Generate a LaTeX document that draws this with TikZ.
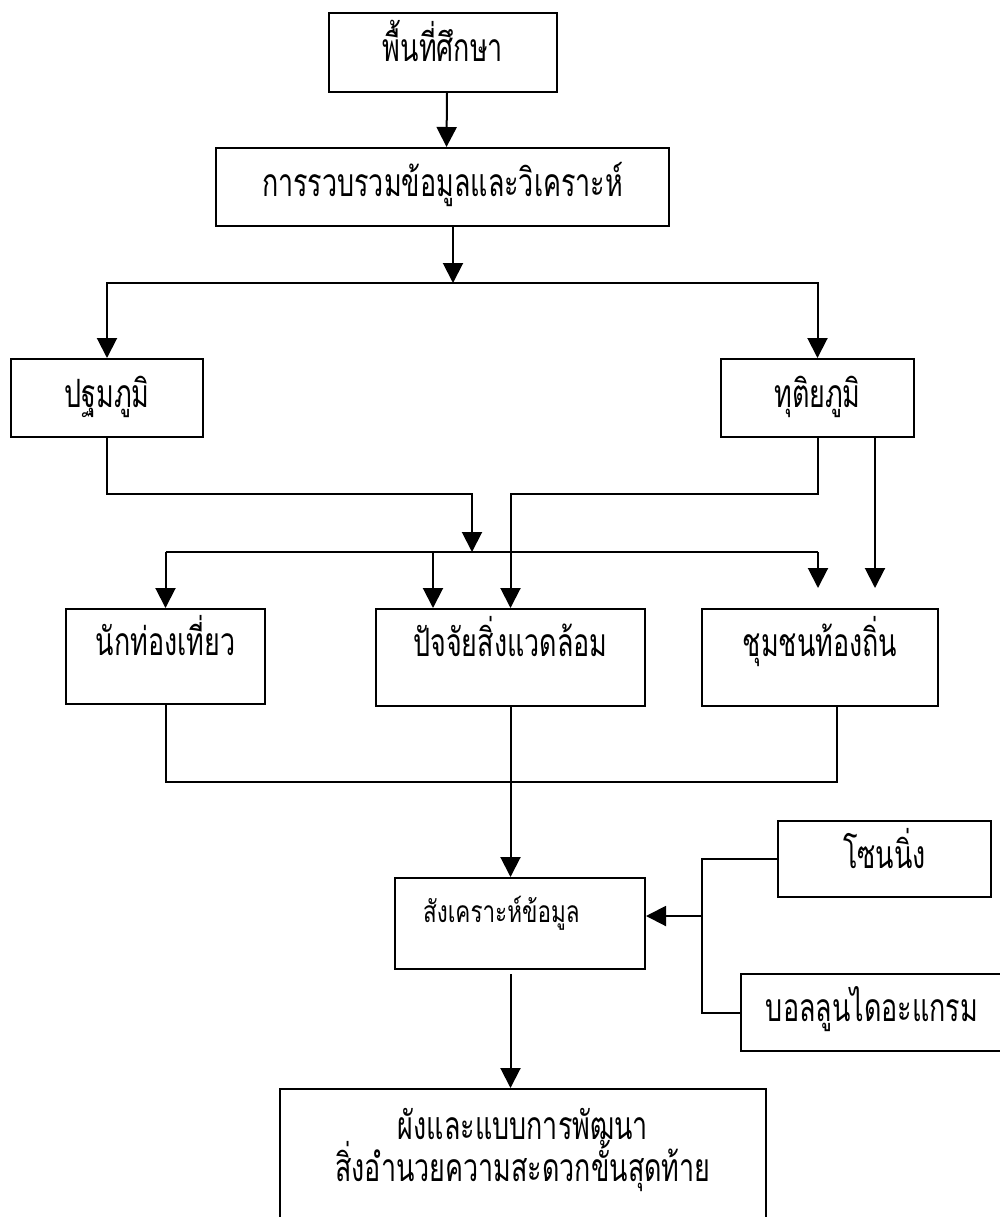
\documentclass[tikz,border=0pt]{standalone}
\usepackage{fontspec}
\newfontfamily\thai[Script=Thai,FakeStretch=0.69]{Loma}
\newfontfamily\thaithin[Script=Thai,FakeStretch=0.75]{Loma}
\usetikzlibrary{arrows.meta}
\begin{document}
\begin{tikzpicture}[x=0.5pt,y=-0.5pt,
  thaitext/.style={font=\thai\fontsize{19.5}{21}\selectfont, text height=14pt, text depth=5pt},
  smalltext/.style={font=\thaithin\fontsize{15}{18}\selectfont, text height=11pt, text depth=4pt},
  box/.style={draw, line width=1pt, inner sep=0pt, thaitext},
  hi/.style={text depth=15pt},
  arr/.style={line width=1pt, -{Triangle[width=10pt,length=10pt]}},
  ln/.style={line width=1pt}]
\useasboundingbox (0,0) rectangle (1000,1217);
\clip (0,0) rectangle (1000,1217);
% boxes
\node[box, minimum width=114pt, minimum height=39.5pt] (area) at (443,52.5) {พื้นที่ศึกษา};
\node[box, minimum width=226.5pt, minimum height=39pt] (coll) at (442.5,187) {การรวบรวมข้อมูลและวิเคราะห์};
\node[box, minimum width=96pt, minimum height=39pt] (prim) at (107,398) {ปฐมภูมิ};
\node[box, minimum width=96.5pt, minimum height=39pt] (sec) at (817.5,398) {ทุติยภูมิ};
\node[box, hi, minimum width=99.5pt, minimum height=47.5pt] (tour) at (165.5,656.5) {นักท่องเที่ยว};
\node[box, hi, minimum width=134.5pt, minimum height=48.5pt] (env) at (510.5,657.5) {ปัจจัยสิ่งแวดล้อม};
\node[box, hi, minimum width=118pt, minimum height=48.5pt] (comm) at (820,657.5) {ชุมชนท้องถิ่น};
\node[box, minimum width=125pt, minimum height=45.5pt,
  label={[smalltext, anchor=west, xshift=11pt, yshift=4.25pt]west:สังเคราะห์ข้อมูล}] (syn) at (520,923.5) {};
\node[box, minimum width=106.5pt, minimum height=38pt] (zon) at (884.5,859) {โซนนิ่ง};
\node[box, minimum width=131pt, minimum height=38.5pt] (ball) at (872,1012.5) {บอลลูนไดอะแกรม};
\node[box, minimum width=243pt, minimum height=75.5pt,
  label={[font=\thai\fontsize{19.5}{21}\selectfont, align=center, yshift=7.25pt]center:{ผังและแบบการพัฒนา\\สิ่งอำนวยความสะดวกขั้นสุดท้าย}}] (fin) at (523,1164.5) {};
% junction coordinates
\coordinate (j1) at (453,283);
\coordinate (b1) at (472,494);
\coordinate (j2) at (472,552);
\coordinate (t1) at (165.5,552);
\coordinate (e1) at (433,552);
\coordinate (c1) at (818,552);
\coordinate (b2) at (510.5,494);
\coordinate (s2) at (875,437);
\coordinate (m2) at (837,782);
\coordinate (k) at (702,916);
\coordinate (g) at (510.5,974);
% connectors
\draw[arr] ([xshift=2pt]area.south) -- ([xshift=2pt]coll.north);
\draw[arr] (coll.south -| j1) -- (j1);
\draw[arr] (j1) -| (prim.north);
\draw[arr] (j1) -| (sec.north);
\draw[arr] (prim.south) |- (b1) -- (j2);
\draw[ln] (t1) -- (c1);
\draw[arr] (t1) -- (tour.north);
\draw[arr] (e1) -- (e1 |- env.north);
\draw[arr] (c1) -- ([yshift=10pt]c1 |- comm.north);
\draw[arr] (sec.south) |- (b2) -- (env.north);
\draw[arr] (s2) -- ([yshift=10pt]s2 |- comm.north);
\draw[ln] (tour.south) |- (m2) -- (m2 |- comm.south);
\draw[arr] (env.south) -- (env.south |- syn.north);
\draw[ln] (zon.west) -| (k) |- (ball.west);
\draw[arr] (k) -- (k -| syn.east);
\draw[arr] (g) -- (g |- fin.north);
\end{tikzpicture}
\end{document}
